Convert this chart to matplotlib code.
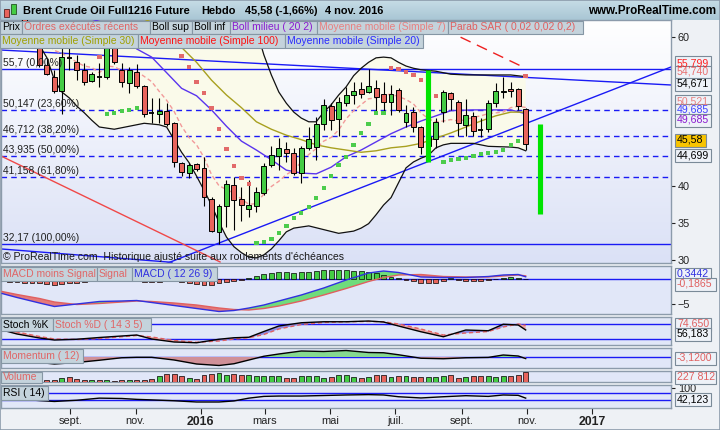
import matplotlib
matplotlib.use("Agg")
import matplotlib.pyplot as plt
import matplotlib.dates as mdates
import numpy as np
import pandas as pd
from matplotlib.colors import LinearSegmentedColormap
from matplotlib.patches import Rectangle

plt.rcParams["font.family"] = ["Liberation Sans", "DejaVu Sans"]

W, H = 720, 430

# ------------------------------------------------------------------ data -----
# weekly bars, first five weeks sit above the visible price range
DATES = pd.date_range("2015-06-29", periods=71, freq="7D")
PRE = 5   # reading index 0 = week of 3 Aug 2015

OPEN = [66.5, 65.2, 63.8, 64.3, 61.4,
        59.6, 56.3, 54.62, 52.74, 57.20, 56.64, 55.57, 54.09, 54.64, 54.62,
        58.8, 55.57, 53.82, 55.30, 53.41, 49.80, 49.65, 50.05, 48.44, 43.06,
        41.72, 42.93, 42.39, 38.22, 33.78, 37.28, 40.10, 38.22, 36.88, 37.28,
        39.03, 42.79, 44.00, 44.94, 44.41, 41.72, 45.08, 45.21, 48.30, 50.72,
        48.98, 51.13, 52.20, 53.01, 52.61, 53.14, 52.34, 51.26, 52.88, 48.57,
        49.92, 47.90, 45.3, 46.29, 49.92, 52.47, 51.26, 48.17, 49.38, 47.52,
        47.63, 51.13, 52.61, 53.01, 53.01, 50.32]
HIGH = [67.8, 66.0, 65.0, 64.6, 62.0,
        60.2, 57.0, 55.57, 58.9, 58.6, 57.58, 56.51, 55.30, 56.51, 59.5,
        59.2, 56.51, 55.97, 56.37, 53.5, 51.80, 51.80, 51.13, 48.6, 43.2,
        43.06, 43.06, 43.87, 38.49, 37.5, 40.77, 41.18, 39.83, 40.77, 39.83,
        43.06, 45.35, 46.42, 45.88, 45.08, 45.3, 47.9, 49.25, 51.67, 51.13,
        51.94, 53.28, 53.95, 53.95, 55.70, 54.22, 53.95, 53.55, 53.14, 50.86,
        50.59, 48.0, 47.0, 49.11, 52.88, 52.6, 51.53, 51.67, 49.92, 49.11,
        51.53, 53.82, 54.62, 53.95, 53.2, 50.46]
LOW = [64.8, 63.2, 62.9, 61.0, 59.0,
       55.97, 54.9, 52.47, 49.65, 55.57, 54.22, 53.55, 53.95, 53.28, 54.4,
       56.4, 53.28, 52.47, 53.14, 49.25, 48.44, 48.44, 48.04, 42.52, 41.31,
       41.04, 42.0, 37.28, 33.78, 32.17, 34.45, 34.05, 35.26, 35.80, 36.47,
       38.8, 42.52, 42.12, 43.20, 41.5, 40.37, 44.81, 43.46, 47.50, 47.50,
       46.69, 50.72, 51.0, 51.80, 52.47, 50.05, 49.92, 49.51, 49.92, 47.90,
       47.23, 44.27, 44.3, 45.08, 48.57, 50.19, 46.69, 46.69, 46.69, 46.56,
       47.23, 50.59, 51.80, 51.94, 50.19, 44.81]
CLOSE = [65.2, 63.8, 64.3, 61.4, 59.6,
         56.24, 55.0, 52.74, 57.31, 57.16, 55.57, 53.95, 55.03, 54.60, 58.8,
         56.64, 53.95, 55.57, 53.41, 49.65, 49.76, 50.05, 48.30, 43.20, 41.85,
         42.79, 42.25, 38.49, 33.92, 37.28, 40.24, 38.09, 37.41, 37.41, 39.16,
         42.66, 44.14, 45.08, 44.41, 41.72, 45.08, 46.29, 48.30, 50.86, 48.84,
         51.26, 52.20, 52.74, 52.34, 53.41, 51.94, 51.26, 52.34, 50.19, 49.78,
         47.90, 45.21, 46.5, 48.57, 52.61, 51.67, 48.44, 49.51, 47.36, 47.48,
         51.13, 52.74, 52.74, 52.74, 50.72, 45.58]
VOLUME_K = [70, 60, 80, 60, 90, 60, 40,
            39, 91, 114, 62, 52, 52, 52, 52, 23, 46, 46, 46, 46, 75, 130, 182,
            182, 130, 91, 75, 153, 182, 205, 153, 182, 153, 153, 130, 130, 130,
            130, 98, 91, 137, 137, 137, 98, 107, 153, 153, 107, 91, 107, 153,
            153, 107, 130, 144, 107, 107, 107, 107, 137, 153, 91, 107, 130, 130,
            130, 107, 130, 130, 153, 227.812]
MACD_HIST = [-0.5, -0.6, -0.7, -0.8, -0.8,
             -0.8, -1.0, -1.2, -1.0, -0.9, -0.8,
             -0.6, -0.4, -0.3, -0.2, -0.2, -0.3, -0.4, -0.5, -0.6, -0.7, -0.6, -0.5,
             -0.5, -0.6, -0.8, -1.0, -1.2, -1.3,
             -0.8, -0.6, -0.4, -0.2,
             0.2, 0.6, 0.9, 1.2, 1.4, 1.4, 1.2, 1.4, 1.4, 1.6, 1.8, 1.8, 1.8, 1.8,
             1.6, 1.6, 1.4, 1.2, 0.8, 0.4,
             0.2, -0.2, -0.5, -0.8, -0.9, -0.8, -0.4, 0.1, -0.3, -0.4, -0.5, -0.5,
             -0.3, -0.1, 0.2, 0.3, 0.2, -0.1865]

# overlay lines at these week indices
BOLL_UP_I = [-5, 5, 12, 20, 25, 28, 29, 30, 31, 32, 33, 34, 35, 36, 37, 38, 39,
             40, 41, 42, 43, 44, 45, 46, 47, 48, 49, 50, 51, 53, 55, 57, 60, 63, 65]
BOLL_UP_V = [70, 66, 64, 64, 65, 63.5, 61.0, 57.6, 54.9, 52.6, 51.1, 49.9, 49.1,
             48.6, 48.6, 49.9, 50.9, 52.2, 53.3, 54.8, 55.8, 56.6, 57.2, 57.3,
             57.2, 56.6, 56.1, 55.8, 55.6, 55.4, 55.0, 54.9, 54.9, 54.9, 54.671]
BOLL_LO_I = [-5, -3, -1, 0, 1, 2, 3, 4, 5, 6, 7, 8, 10, 12, 14, 16, 17, 18, 19,
             20, 21, 22, 23, 24, 25, 26, 27, 28, 29, 30, 31, 32, 33, 34, 36, 38,
             40, 42, 43, 44, 45, 46, 47, 48, 49, 50, 51, 52, 53, 54, 55, 58, 60,
             63, 64, 65]
BOLL_LO_V = [64, 63, 61, 58.9, 57.2, 54.2, 52.6, 51.8, 50.7, 49.8, 48.8, 47.9,
             47.6, 48.0, 48.4, 48.2, 47.9, 46.2, 44.5, 43.1, 41.3, 39.4, 37.4,
             35.1, 33.1, 31.8, 31.0, 30.4, 30.3, 30.7, 31.5, 32.6, 33.8, 34.3,
             34.6, 34.1, 33.6, 33.9, 34.3, 34.9, 36.1, 37.4, 38.4, 40.4, 42.4,
             43.2, 43.7, 44.1, 45.1, 45.5, 45.7, 45.7, 45.3, 45.2, 45.1, 44.699]
MID_I = [-5, 0, 5, 10, 13, 15, 17, 19, 21, 23, 25, 27, 29, 31, 33, 35, 37, 39,
         41, 43, 45, 47, 49, 51, 53, 55, 58, 61, 63, 65]
MID_V = [67, 65, 63, 61.5, 58.4, 57.3, 55.2, 53.1, 52.1, 50.2, 48.0, 46.0, 44.8,
         43.5, 42.1, 41.7, 41.6, 42.5, 43.9, 44.8, 45.9, 47.0, 47.9, 48.7, 49.4,
         50.1, 50.2, 50.2, 50.2, 49.685]
MA30_I = [-5, 0, 10, 17, 19, 21, 23, 25, 27, 29, 31, 33, 35, 37, 39, 41, 43, 45,
          47, 49, 51, 53, 55, 57, 59, 61, 63, 65]
MA30_V = [69, 67, 64, 61.2, 58.6, 56.6, 54.2, 52.2, 50.5, 48.6, 47.6, 46.8, 46.2,
          45.5, 45.1, 44.8, 44.5, 44.7, 45.1, 45.3, 45.7, 46.4, 47.1, 47.9, 48.7,
          49.4, 49.9, 49.9]
MA100_I = [-5, 20, 40, 50, 55, 60, 65]
MA100_V = [80, 72, 66, 62.8, 60.6, 58.2, 55.799]
MA7_I = list(range(66))
MA7_V = [60.0, 59.2, 58.2, 57.8, 57.3, 56.6, 56.1, 55.9, 55.2, 56.1, 56.0, 55.5,
         55.5, 55.4, 54.7, 54.0, 52.7, 51.5, 50.0, 48.0, 46.5, 45.5, 43.8, 41.5,
         40.0, 39.5, 39.0, 38.2, 37.5, 37.6, 38.9, 39.9, 40.6, 41.5, 42.1, 43.2,
         44.2, 45.0, 46.0, 46.5, 47.5, 49.0, 50.1, 50.9, 51.7, 51.8, 52.2, 52.3,
         52.0, 51.6, 51.0, 49.8, 49.0, 48.6, 48.7, 48.9, 48.7, 48.9, 49.2, 49.4,
         49.7, 49.8, 49.9, 50.5, 50.7, 50.521]
SAR_I = [8, 9, 10, 11, 12, 13, 19, 20, 21, 22, 23, 24, 25, 26, 27, 28,
         29, 30, 31, 32, 33, 34, 35, 36, 37, 38, 39, 40, 41, 42, 43, 44, 45, 46,
         47, 48, 49, 50, 51, 52, 53, 54, 55, 56, 57, 58, 59, 60, 61, 62, 63, 64, 65]
SAR_V = [57.3, 49.65, 49.8, 50.05, 50.2, 50.45, 57.45, 55.97, 53.95, 52.47,
         50.46, 47.63, 44.94, 42.66, 41.04, 40.24,
         32.3, 32.44, 32.84, 33.65, 34.59, 35.66, 36.34, 37.14, 38.35, 39.7,
         41.31, 42.79, 43.87, 45.48, 47.09, 48.3, 49.78, 49.78,
         55.83, 55.7, 55.3, 54.89, 54.22, 53.14, 52.07, 43.2, 43.46, 43.6, 43.73,
         44.0, 44.27, 44.41, 44.54, 44.81, 45.48, 46.02, 54.74]

# Fibonacci retracement 55.7 -> 32.17
FIB_LEVEL = [55.7, 50.147, 46.712, 43.935, 41.158, 32.17]
FIB_TEXT = ["55,7 (0,00%)", "50,147 (23,60%)", "46,712 (38,20%)",
            "43,935 (50,00%)", "41,158 (61,80%)", "32,17 (100,00%)"]

# drawn trend lines (two anchors each)
TL_BLUE_DOWN = (["2015-06-28", "2017-03-16"], [58.25, 53.55])
TL_BLUE_UP = (["2015-11-25", "2017-03-16"], [29.27, 55.97])
TL_BLUE_LOW = (["2015-06-28", "2015-12-05"], [31.5, 29.7])
TL_RED = (["2015-06-28", "2016-01-19"], [44.0, 29.75])
MARK_DATE = ["2016-08-01", "2016-11-13"]
MARK_LO = [43.2, 36.2]
MARK_HI = [55.57, 48.3]

# indicator panels, read at these week indices
S = [-5, -3, 0, 2, 5, 8, 11, 13, 15, 18, 21, 24, 26, 28, 30, 32, 35, 38, 41,
     44, 46, 48, 51, 54, 57, 60, 62, 64, 65]
MACD_V = [-3.0, -3.8, -4.9, -5.6, -5.1, -4.6, -4.5, -4.4, -4.8, -5.4, -6.0, -6.6,
          -6.4, -5.9, -5.3, -4.5, -3.3, -1.9, -0.3, 1.1, 1.5, 1.2, 0.3, 0.2, 0.2,
          0.4, 0.7, 0.8, 0.3442]
SIGNAL_V = [-2.6, -3.2, -4.0, -4.7, -5.2, -5.0, -4.7, -4.5, -4.6, -4.9, -5.3,
            -5.9, -6.2, -6.3, -6.0, -5.5, -4.5, -3.3, -2.0, -0.6, 0.2, 0.7, 0.8,
            0.4, 0.3, 0.3, 0.5, 0.7, 0.53]
STOCH_K = [56, 40, 24, 16, 19, 26, 32, 36, 20, 8, 5, 19, 25, 27, 50, 72, 85, 89,
           89, 92, 88, 72, 49, 29, 56, 53, 79, 76, 56.183]
STOCH_D = [62, 48, 30, 20, 18, 22, 29, 34, 28, 14, 7, 12, 20, 25, 38, 60, 78, 86,
           89, 90, 89, 80, 60, 36, 44, 50, 68, 80, 74.650]
MOM_V = [0.6, -4, -11, -14, -11, -6.5, -1.5, -0.6, -0.6, -6, -14, -17, -13.5, -6,
         1.5, 6, 12, 11, 13, 9, 8.5, 4.5, -2.5, -3.5, -1.5, -0.8, 4, 2, -3.12]
RSI_V = [50, 38, 28, 23, 30, 42, 40, 35, 32, 27, 20, 20, 26, 42, 52, 54, 54, 57,
         60, 62, 60, 50, 43, 50, 56, 52, 60, 58, 42.123]

XT = ["2015-09-01", "2015-11-01", "2016-01-01", "2016-03-01", "2016-05-01",
      "2016-07-01", "2016-09-01", "2016-11-01", "2017-01-01"]
XT_LAB = ["sept.", "nov.", "2016", "mars", "mai", "juil.", "sept.", "nov.", "2017"]

# ---------------------------------------------------------------- styling ----
RED = "#e8645c"
GREEN = "#44cc44"
BLUE = "#1a1af5"
FRAME = "#8c9bab"
SUB_BG = "#e1e7f8"
TAG_BG = "#c4d3dc"
TAG_EDGE = "#8596a4"
TAG_FS = 7.5
XMIN, XMAX = mdates.datestr2num("2015-06-28"), mdates.datestr2num("2017-03-16")
XN = mdates.date2num(DATES.to_pydatetime())
BW = 4.6


def wk(idx):
    return XN[np.asarray(idx) + PRE]


def fr(v, nd):
    return f"{v:.{nd}f}".replace(".", ",")


fig = plt.figure(figsize=(W / 100, H / 100), dpi=100)
fig.patch.set_facecolor("#eef1f5")


def panel(top, bottom, bg=SUB_BG):
    ax = fig.add_axes([1 / W, 1 - bottom / H, 670 / W, (bottom - top) / H])
    ax.set_facecolor(bg)
    ax.set_xlim(XMIN, XMAX)
    for s in ax.spines.values():
        s.set_color(FRAME)
        s.set_linewidth(1)
    ax.tick_params(axis="x", bottom=False, labelbottom=False)
    ax.yaxis.tick_right()
    ax.tick_params(axis="y", length=3, pad=2, labelsize=7.8, colors="#222222")
    ax.set_yticks([])
    return ax


def tag(x0, x1, y0, y1, text, color):
    fig.add_artist(Rectangle((x0 / W, 1 - y1 / H), (x1 - x0) / W, (y1 - y0) / H,
                             transform=fig.transFigure, fc=TAG_BG, ec=TAG_EDGE,
                             lw=0.8, zorder=20))
    fig.text((x0 + 2) / W, 1 - (y0 + y1) / 2 / H, text, color=color,
             fontsize=TAG_FS, ha="left", va="center", zorder=21)


def vbox(yc, text, color, bg="#eef2f8"):
    w, h = 5 * len(text) + 6, 13
    fig.add_artist(Rectangle((675 / W, 1 - (yc + h / 2) / H), w / W, h / H,
                             transform=fig.transFigure, fc=bg, ec="#7a8a98",
                             lw=0.8, zorder=20))
    fig.text(677 / W, 1 - yc / H, text, color=color, fontsize=7.6, ha="left",
             va="center", zorder=21)


# ---------------------------------------------------------------- title ------
axt = fig.add_axes([0, 1 - 20 / H, 1, 20 / H])
axt.imshow(np.linspace(0, 1, 64).reshape(-1, 1), aspect="auto",
           cmap=LinearSegmentedColormap.from_list("t", ["#c6dce6", "#a9c6d4"]),
           extent=[0, 1, 0, 1])
axt.set_axis_off()
fig.add_artist(Rectangle((11 / W, 1 - 14 / H), 5 / W, 10 / H, transform=fig.transFigure,
                         fc=GREEN, ec="#225522", lw=0.6, zorder=5))
fig.add_artist(Rectangle((4 / W, 1 - 17 / H), 5 / W, 8 / H, transform=fig.transFigure,
                         fc=RED, ec="#552222", lw=0.6, zorder=5))
for x0, txt in [(23, "Brent Crude Oil Full1216 Future"), (201, "Hebdo"),
                (245, f"{fr(CLOSE[-1], 2)} (-1,66%)"), (325, "4 nov. 2016")]:
    fig.text(x0 / W, 1 - 10.5 / H, txt, fontsize=7.9, fontweight="bold",
             va="center")
fig.text(716 / W, 1 - 10.5 / H, "www.ProRealTime.com", fontsize=8.4,
         fontweight="bold", va="center", ha="right")

# ---------------------------------------------------------------- price ------
ax = panel(20, 263)
YMIN, YMAX = 29.61, 62.29
ax.imshow(np.linspace(0, 1, 128).reshape(-1, 1), aspect="auto", zorder=0,
          cmap=LinearSegmentedColormap.from_list("b", ["#ffffff", "#dbe1f6"]),
          extent=[XMIN, XMAX, YMIN, YMAX], origin="upper")
ax.set_xlim(XMIN, XMAX)
ax.set_ylim(YMIN, YMAX)

xu, xl = wk(BOLL_UP_I), wk(BOLL_LO_I)
ax.fill(np.concatenate([xu, xl[::-1]]), np.concatenate([BOLL_UP_V, BOLL_LO_V[::-1]]),
        color="#fafaea", zorder=1, lw=0)

for lvl, txt in zip(FIB_LEVEL, FIB_TEXT):
    solid = lvl in (FIB_LEVEL[0], FIB_LEVEL[-1])
    ax.axhline(lvl, color=BLUE, lw=1, zorder=2,
               ls="-" if solid else (0, (4, 3)))
    ax.text(XMIN + 1.5, lvl + 0.15, txt, fontsize=7.4, color="#202020",
            va="bottom", ha="left", zorder=9)

for (d, v), col in [(TL_BLUE_DOWN, BLUE), (TL_BLUE_UP, BLUE), (TL_BLUE_LOW, BLUE),
                    (TL_RED, "#f04848")]:
    ax.plot(mdates.datestr2num(d), v, color=col, lw=1, zorder=2.5)

ax.plot(xu, BOLL_UP_V, color="#111111", lw=0.9, zorder=3)
ax.plot(xl, BOLL_LO_V, color="#111111", lw=0.9, zorder=3)
ax.plot(wk(MID_I), MID_V, color="#5a34ee", lw=1, zorder=3)
ax.plot(wk(MA30_I), MA30_V, color="#a8a020", lw=1, zorder=3)
ax.plot(wk(MA7_I), MA7_V, color="#f29a9a", lw=1, ls=(0, (3, 2)), zorder=3)
ax.plot(wk(MA100_I), MA100_V, color="#ee2020", lw=1, ls=(0, (8, 5)), zorder=3)

for x, o, h, l, c in zip(XN, OPEN, HIGH, LOW, CLOSE):
    ax.vlines(x, l, h, color="black", lw=0.8, zorder=4)
    if abs(c - o) < 0.08:
        ax.hlines(c, x - BW / 2, x + BW / 2, color="black", lw=1.3, zorder=5)
    else:
        ax.add_patch(Rectangle((x - BW / 2, min(o, c)), BW, abs(c - o),
                               fc=GREEN if c > o else RED, ec="black", lw=0.7,
                               zorder=5))

sar_close = np.asarray(CLOSE)[np.asarray(SAR_I) + PRE]
sar_col = np.where(np.asarray(SAR_V) > sar_close, "#e26a6a", "#4ccc4c")
ax.scatter(wk(SAR_I), SAR_V, marker="s", s=10, c=sar_col, lw=0, zorder=6)

ax.vlines(mdates.datestr2num(MARK_DATE), MARK_LO, MARK_HI, color="#00e400",
          lw=3.7, zorder=7)

ax.text(XMIN + 1.5, 30.35, "© ProRealTime.com  Historique ajusté suite aux "
        "roulements d'échéances", fontsize=7.6, color="#1a1a1a", va="center",
        zorder=9)
ax.set_yticks([30, 35, 40, 60])

tag(0, 22, 21, 34, "Prix", "black")
tag(22, 150, 21, 34, "Ordres exécutés récents", "#e06666")
tag(150, 192, 21, 34, "Boll sup", "black")
tag(192, 230, 21, 34, "Boll inf", "black")
tag(230, 317, 21, 34, "Boll milieu ( 20 2)", "#8a1ad0")
tag(317, 448, 21, 34, "Moyenne mobile (Simple 7)", "#e88080")
tag(448, 583, 21, 34, "Parab SAR ( 0,02 0,02 0,2)", "#e06060")
tag(0, 138, 34, 48, "Moyenne mobile (Simple 30)", "#a0a000")
tag(138, 285, 34, 48, "Moyenne mobile (Simple 100)", "#ff1010")
tag(285, 423, 34, 48, "Moyenne mobile (Simple 20)", "#2a2aff")

vbox(63, fr(MA100_V[-1], 3), "#ff2020")
vbox(72, fr(SAR_V[-1], 3), "#e87070")
vbox(84, fr(BOLL_UP_V[-1], 3), "black")
vbox(101, fr(MA7_V[-1], 3), "#e88080")
vbox(110, fr(MID_V[-1], 3), "#4040ff")
vbox(120, fr(MID_V[-1], 3), "#8a1ad0")
vbox(140, fr(CLOSE[-1], 2), "black", bg="#f8c400")
vbox(155, fr(BOLL_LO_V[-1], 3), "black")

# ---------------------------------------------------------------- MACD -------
am = panel(266, 314)
am.set_ylim(-7.1, 2.5)
am.axhline(0, color=BLUE, lw=1, zorder=2)
hist = np.asarray(MACD_HIST)
am.bar(XN, hist, width=BW, color=np.where(hist >= 0, GREEN, RED),
       edgecolor="black", lw=0.5, zorder=3)
xs = wk(S)
mv, sv = np.asarray(MACD_V), np.asarray(SIGNAL_V)
am.fill_between(xs, mv, sv, where=mv >= sv, interpolate=True, color="#6fdc7c",
                lw=0, zorder=2)
am.fill_between(xs, mv, sv, where=mv < sv, interpolate=True, color="#e57a7a",
                lw=0, zorder=2)
am.plot(xs, sv, color="#e06060", lw=1, zorder=4)
am.plot(xs, mv, color="#3030e0", lw=1, zorder=4)
am.set_yticks([-5])
tag(1, 97, 267, 281, "MACD moins Signal", "#e06666")
tag(97, 132, 267, 281, "Signal", "#e06666")
tag(132, 217, 267, 281, "MACD ( 12 26 9)", "#3030e0")
vbox(274, fr(MACD_V[-1], 4), "#3030e0")
vbox(284, fr(MACD_HIST[-1], 4), "#e06060")

# ---------------------------------------------------------------- stoch ------
ast = panel(317, 345)
ast.set_ylim(-4, 108)
for lv in (20, 80):
    ast.axhline(lv, color=BLUE, lw=1, zorder=2)
kv, dv = np.asarray(STOCH_K), np.asarray(STOCH_D)
ast.fill_between(xs, kv, dv, where=kv >= dv, interpolate=True, color="#8c8ce6",
                 lw=0, zorder=2)
ast.fill_between(xs, kv, dv, where=kv < dv, interpolate=True, color="#eaa4a4",
                 lw=0, zorder=2)
ast.plot(xs, dv, color="#e06060", lw=1, ls=(0, (3, 2)), zorder=3)
ast.plot(xs, kv, color="black", lw=1, zorder=3)
tag(1, 53, 318, 331, "Stoch %K", "black")
tag(53, 151, 318, 331, "Stoch %D ( 14 3 5)", "#e06666")
vbox(324, fr(STOCH_D[-1], 3), "#e06060")
vbox(334, fr(STOCH_K[-1], 3), "black")

# ---------------------------------------------------------------- momentum ---
amo = panel(348, 368)
amo.set_ylim(-22, 18)
amo.axhline(0, color=BLUE, lw=1, zorder=2)
mo = np.asarray(MOM_V)
amo.fill_between(xs, mo, 0, where=mo >= 0, interpolate=True, color="#86d890",
                 lw=0, zorder=2)
amo.fill_between(xs, mo, 0, where=mo < 0, interpolate=True, color="#d09098",
                 lw=0, zorder=2)
amo.plot(xs, mo, color="black", lw=1, zorder=3)
tag(1, 83, 349, 363, "Momentum ( 12)", "#e06666")
vbox(358, fr(MOM_V[-1], 4), "#e06060")

# ---------------------------------------------------------------- volume -----
av = panel(371, 382)
av.set_ylim(0, 250.6)
up = np.asarray(CLOSE) >= np.asarray(OPEN)
av.bar(XN, VOLUME_K, width=BW, color=np.where(up, GREEN, RED),
       edgecolor="black", lw=0.5, zorder=3)
tag(1, 42, 372, 383, "Volume", "#e06666")
vbox(377, f"{int(round(VOLUME_K[-1] * 1000)):,}".replace(",", " "), "#e06060")

# ---------------------------------------------------------------- RSI --------
ar = panel(385, 408)
ar.set_ylim(-14.3, 117)
for lv in (30, 70):
    ar.axhline(lv, color=BLUE, lw=1, zorder=2)
ar.plot(xs, RSI_V, color="black", lw=1, zorder=3)
ar.set_yticks([100])
tag(1, 48, 386, 400, "RSI ( 14)", "black")
vbox(399, fr(RSI_V[-1], 3), "black")

ar.set_xticks(mdates.datestr2num(XT))
ar.set_xticklabels(XT_LAB)
ar.tick_params(axis="x", bottom=True, labelbottom=True, length=4, pad=2,
               labelsize=7.9, colors="#222222")
for lab in ar.get_xticklabels():
    if lab.get_text().isdigit():
        lab.set_fontweight("bold")
        lab.set_fontsize(8.8)

fig.add_artist(Rectangle((0, 0), 1, 1, transform=fig.transFigure, fill=False,
                         ec=FRAME, lw=1.2, zorder=30))
fig.savefig("out.png", dpi=100, facecolor=fig.get_facecolor())
